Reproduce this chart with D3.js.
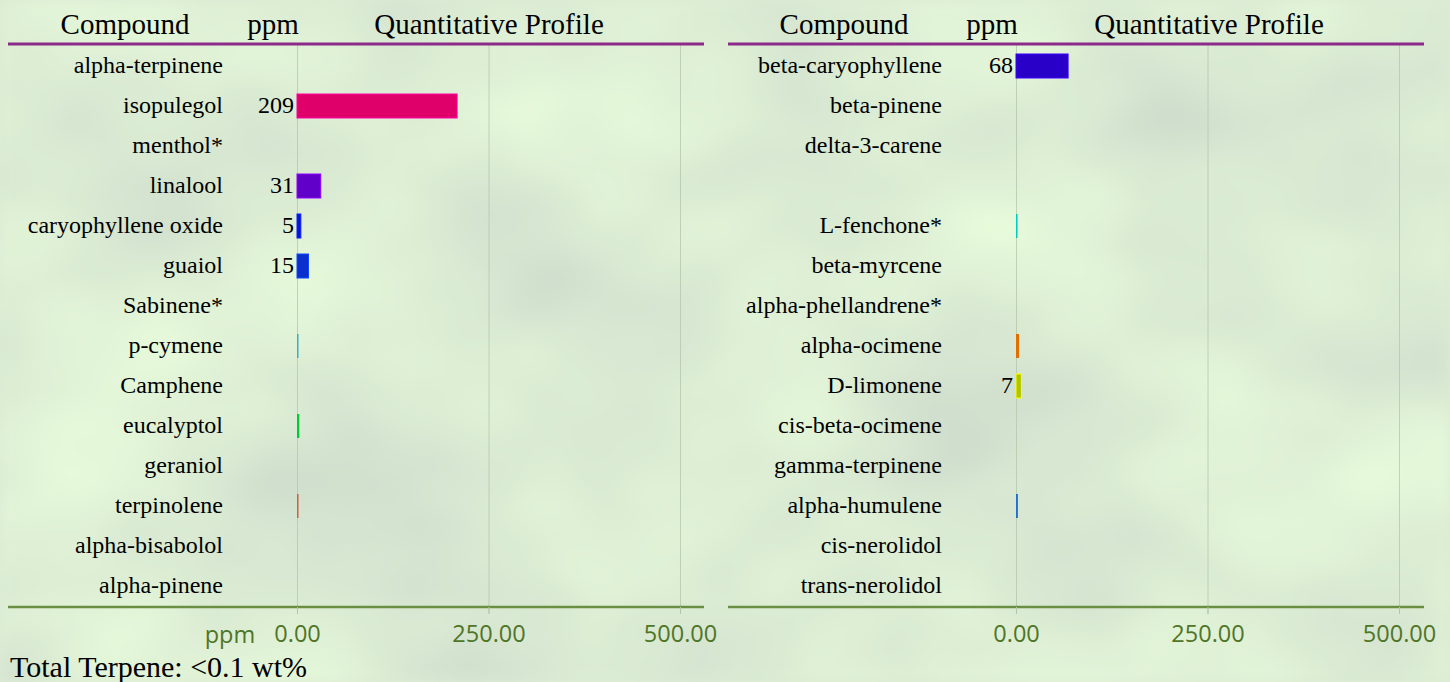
<!DOCTYPE html>
<html>
<head>
<meta charset="utf-8">
<script src="https://cdn.jsdelivr.net/npm/d3@7"></script>
<style>
  body { margin: 0; background: #dcecd4; }
  svg { display: block; }
  .serif { font-family: "Liberation Serif", "Times New Roman", serif; fill: #000; }
  .tick text { font-family: "Open Sans", sans-serif; fill: #4f7527; }
</style>
</head>
<body>
<svg></svg>
<script>
var width = 1450;
var height = 682;

// left column
var leftCompounds = ["alpha-terpinene", "isopulegol", "menthol*", "linalool", "caryophyllene oxide",
  "guaiol", "Sabinene*", "p-cymene", "Camphene", "eucalyptol", "geraniol", "terpinolene",
  "alpha-bisabolol", "alpha-pinene"];
var leftValues = [0, 209, 0, 31, 5, 15, 0, 2, 0, 3, 0, 2, 0, 0];
var leftColors = ["#999999", "#e0006a", "#999999", "#6000c8", "#0814d2", "#0a2fcc", "#999999",
  "#3aaed0", "#999999", "#00cc38", "#999999", "#d4603e", "#999999", "#999999"];

// right column (one blank row)
var rightCompounds = ["beta-caryophyllene", "beta-pinene", "delta-3-carene", "", "L-fenchone*",
  "beta-myrcene", "alpha-phellandrene*", "alpha-ocimene", "D-limonene", "cis-beta-ocimene",
  "gamma-terpinene", "alpha-humulene", "cis-nerolidol", "trans-nerolidol"];
var rightValues = [68, 0, 0, 0, 2, 0, 0, 4, 7, 0, 0, 2.5, 0, 0];
var rightColors = ["#2800c8", "#999999", "#999999", "#999999", "#00ccc0", "#999999", "#999999",
  "#e07000", "#b0c400", "#999999", "#999999", "#2070d0", "#999999", "#999999"];

var tickValues = [0, 250, 500];
var totalText = "Total Terpene: <0.1 wt%";

var svg = d3.select("svg")
            .attr("width", width)
            .attr("height", height);

// mottled background
var defs = svg.append("defs");
var f = defs.append("filter").attr("id", "mottle")
  .attr("x", 0).attr("y", 0).attr("width", "100%").attr("height", "100%")
  .attr("color-interpolation-filters", "sRGB");
f.append("feTurbulence")
  .attr("type", "fractalNoise")
  .attr("baseFrequency", "0.0035 0.005")
  .attr("numOctaves", 3)
  .attr("seed", 7);
f.append("feColorMatrix")
  .attr("type", "matrix")
  .attr("values", "0.16 0 0 0 0.78  0.19 0 0 0 0.83  0.09 0 0 0 0.785  0 0 0 0 1");
f.append("feGaussianBlur").attr("stdDeviation", 6);

svg.append("rect")
   .attr("width", width)
   .attr("height", height)
   .attr("filter", "url(#mottle)");

function drawPanel(opts) {
  var rows = opts.compounds.map(function(c, i) {
    return { name: c, value: opts.values[i], color: opts.colors[i] };
  });
  var g = svg.append("g");

  var xScale = d3.scaleLinear()
                 .domain([0, 500])
                 .range([opts.x0, opts.x0 + 383]);

  var yScale = d3.scaleBand()
                 .domain(opts.compounds)
                 .range([44, 604])
                 .paddingInner(0.4)
                 .paddingOuter(0.2);

  // grid lines
  g.append("g")
   .attr("transform", "translate(0,44)")
   .call(d3.axisBottom(xScale).tickValues(tickValues).tickSize(570).tickFormat(""))
   .call(function(s) {
     s.select(".domain").remove();
     s.selectAll("line").attr("stroke", "#b3c6a8").attr("stroke-opacity", 0.75);
   });

  // header
  var header = [
    { t: "Compound", x: opts.compoundX },
    { t: "ppm", x: opts.ppmX },
    { t: "Quantitative Profile", x: opts.profileX }
  ];
  g.selectAll(".hdr")
   .data(header)
   .enter()
   .append("text")
   .attr("class", "serif hdr")
   .attr("x", function(d) { return d.x; })
   .attr("y", 34)
   .attr("text-anchor", "middle")
   .style("font-size", "29px")
   .text(function(d) { return d.t; });

  g.append("line")
   .attr("x1", opts.left).attr("x2", opts.right)
   .attr("y1", 44).attr("y2", 44)
   .attr("stroke", "#8c2a8a")
   .attr("stroke-width", 3);

  // compound labels
  g.selectAll(".lbl")
   .data(rows)
   .enter()
   .append("text")
   .attr("class", "serif lbl")
   .attr("x", opts.labelX)
   .attr("y", function(d) { return yScale(d.name) + yScale.bandwidth() / 2; })
   .attr("dy", "0.36em")
   .attr("text-anchor", "end")
   .style("font-size", "24px")
   .text(function(d) { return d.name; });

  // bars
  g.selectAll(".bar")
   .data(rows.filter(function(d) { return d.value > 0; }))
   .enter()
   .append("rect")
   .attr("class", "bar")
   .attr("x", xScale(0))
   .attr("y", function(d) { return yScale(d.name) + 2; })
   .attr("height", yScale.bandwidth())
   .attr("width", function(d) { return xScale(d.value) - xScale(0); })
   .attr("fill", function(d) { return d.color; })
   .attr("stroke", function(d) { return d3.color(d.color).brighter(1.2); })
   .attr("stroke-width", function(d) { return d.value >= 5 ? 1 : 0; });

  // value labels
  g.selectAll(".val")
   .data(rows.filter(function(d) { return d.value >= 5; }))
   .enter()
   .append("text")
   .attr("class", "serif val")
   .attr("x", xScale(0) - 3)
   .attr("y", function(d) { return yScale(d.name) + yScale.bandwidth() / 2; })
   .attr("dy", "0.36em")
   .attr("text-anchor", "end")
   .style("font-size", "24px")
   .text(function(d) { return d.value; });

  // bottom axis
  g.append("line")
   .attr("x1", opts.left).attr("x2", opts.right)
   .attr("y1", 607).attr("y2", 607)
   .attr("stroke", "#6b8f42")
   .attr("stroke-width", 2.5);

  g.append("g")
   .attr("transform", "translate(0,607)")
   .call(d3.axisBottom(xScale).tickValues(tickValues).tickSize(7).tickPadding(11)
           .tickFormat(d3.format(".2f")))
   .call(function(s) {
     s.select(".domain").remove();
     s.selectAll("line").attr("stroke", "#b3c6a8");
     s.selectAll("text").style("font-size", "23.5px");
   });

  return xScale;
}

drawPanel({
  compounds: leftCompounds, values: leftValues, colors: leftColors,
  x0: 297, left: 8, right: 704, labelX: 223,
  compoundX: 125, ppmX: 273, profileX: 489
});

drawPanel({
  compounds: rightCompounds, values: rightValues, colors: rightColors,
  x0: 1016, left: 728, right: 1424, labelX: 942,
  compoundX: 844, ppmX: 992, profileX: 1209
});

// "ppm" unit on left axis
svg.append("text")
   .attr("x", 230)
   .attr("y", 643)
   .attr("text-anchor", "middle")
   .style("font-family", "Open Sans, sans-serif")
   .style("font-size", "23.5px")
   .style("fill", "#4f7527")
   .text("ppm");

svg.append("text")
   .attr("class", "serif")
   .attr("x", 10)
   .attr("y", 677)
   .style("font-size", "30px")
   .text(totalText);
</script>
</body>
</html>
